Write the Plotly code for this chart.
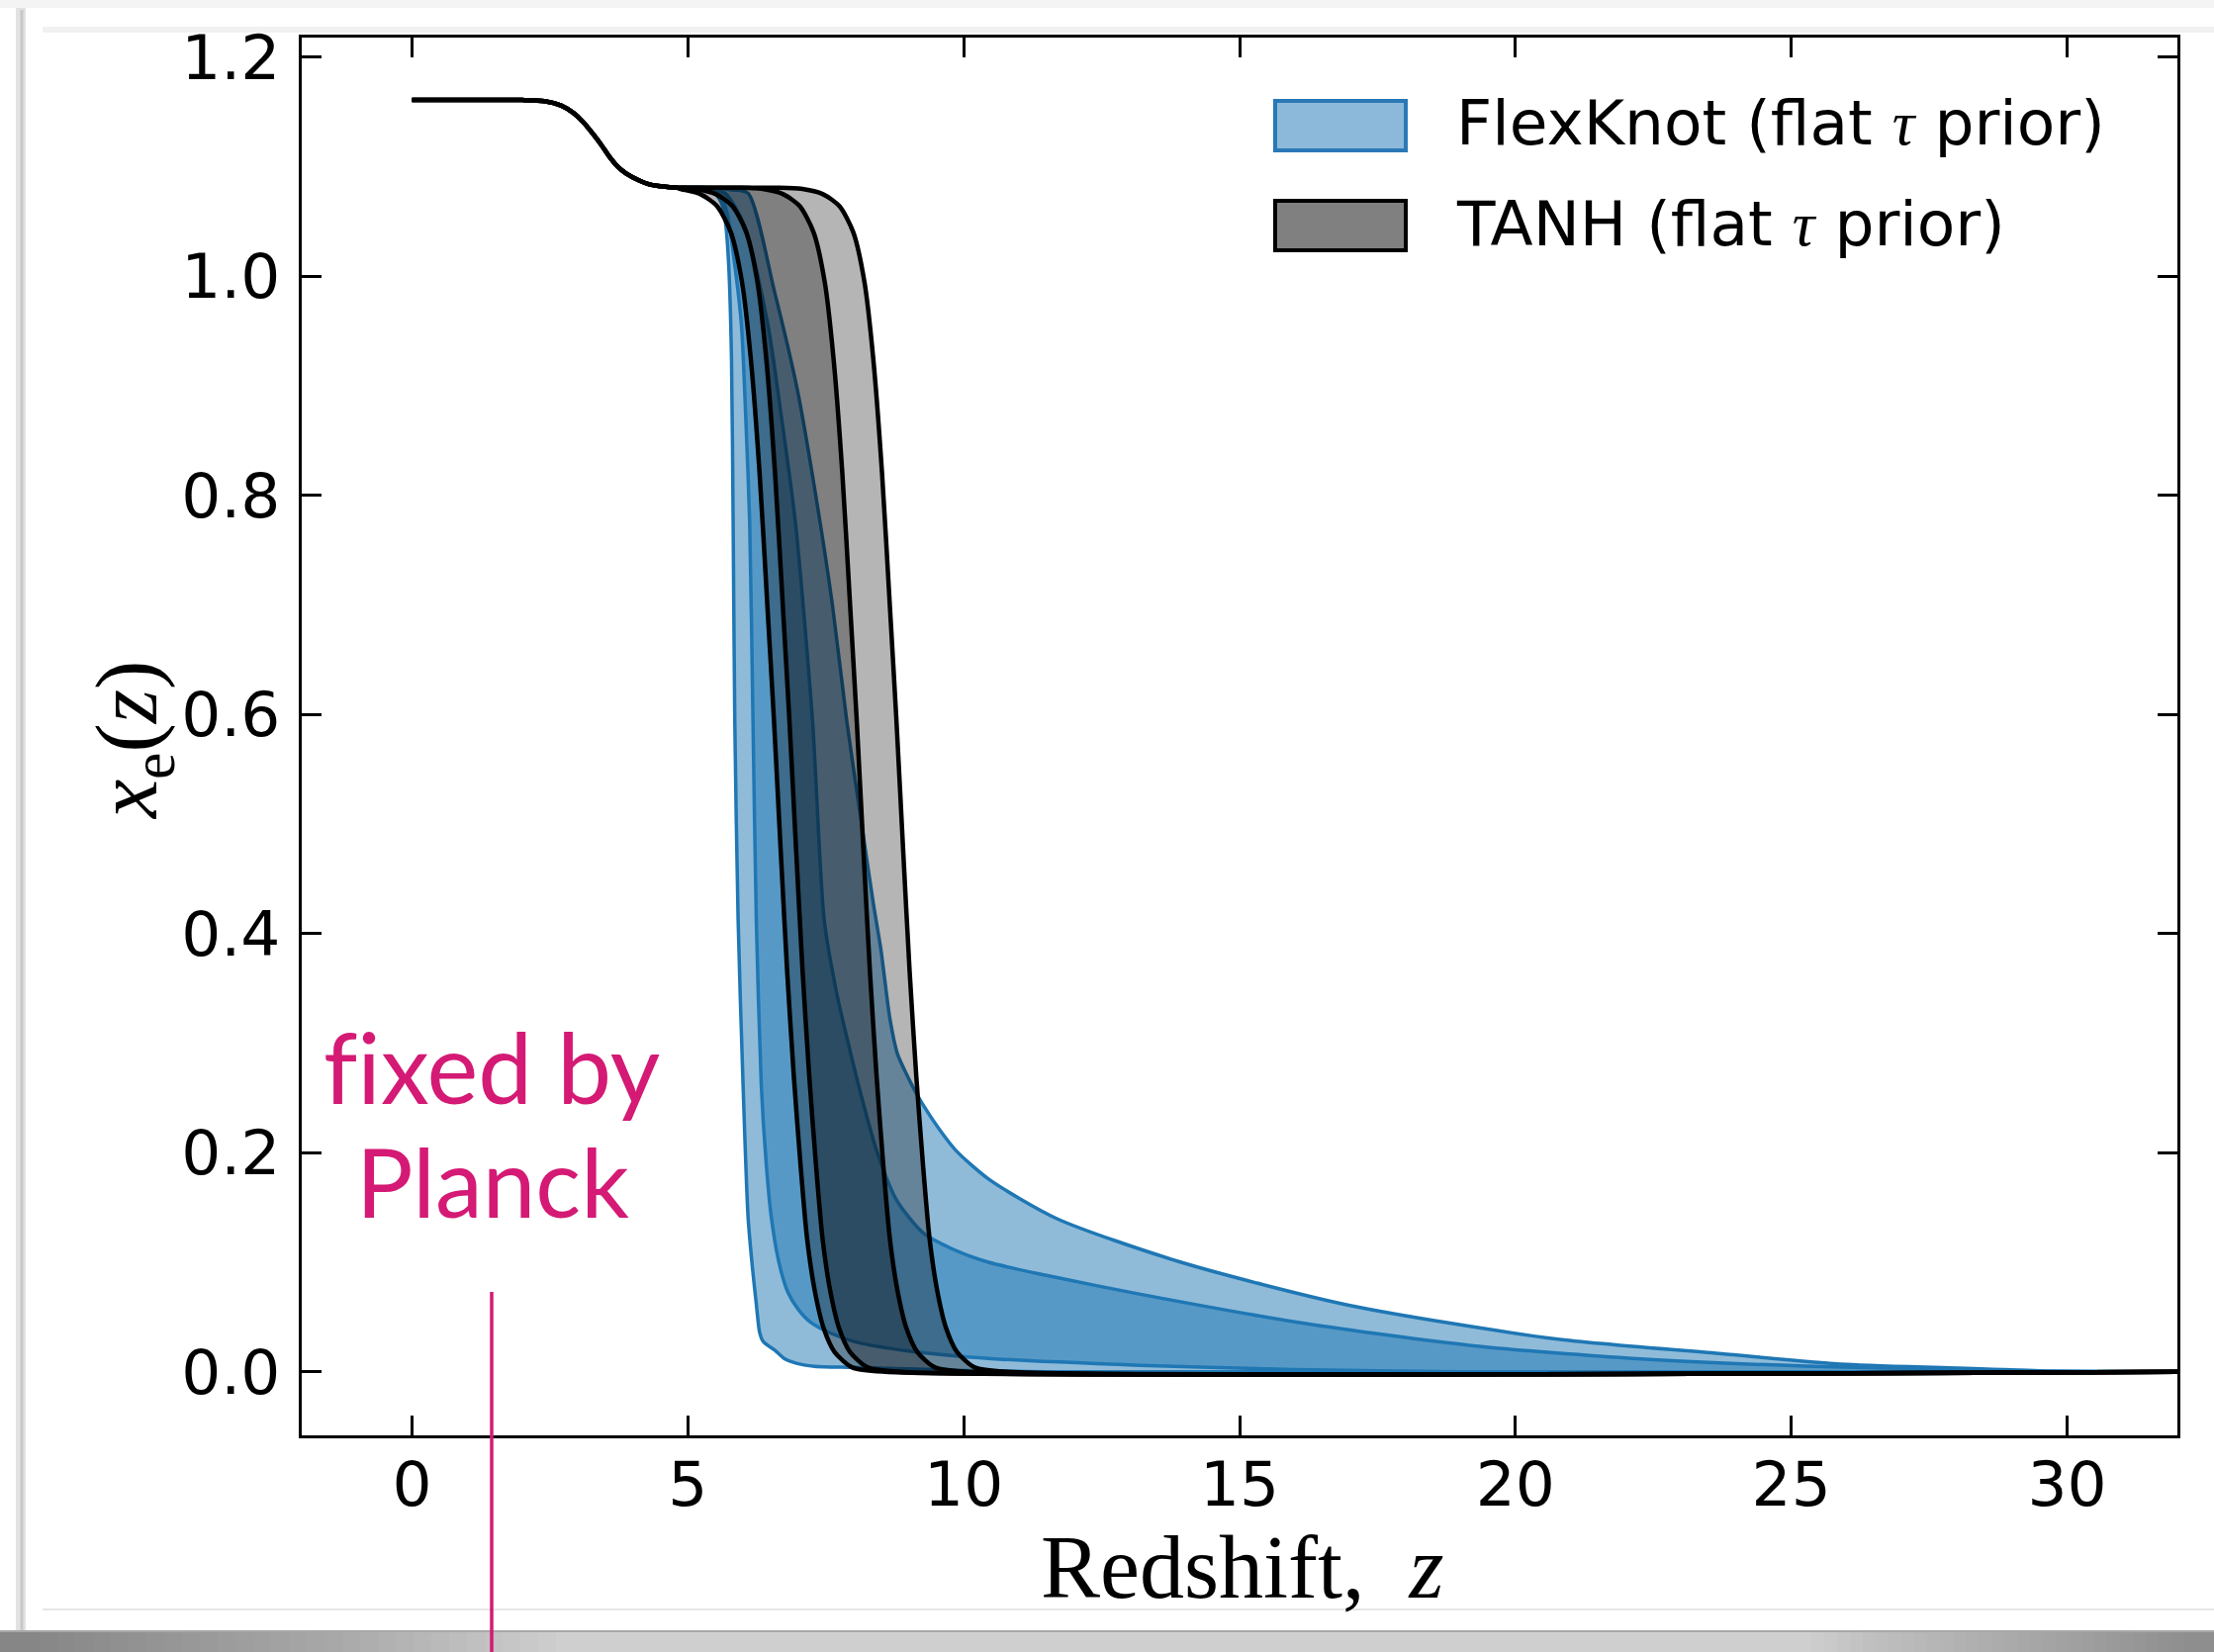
import plotly.graph_objects as go

# ---------------------------------------------------------------------------
# Ionisation history x_e(z): shared low-redshift helium step
he_z = [0.0, 1.0, 2.0, 2.4, 2.7, 2.93, 3.1, 3.28, 3.43, 3.58, 3.73, 3.88, 4.1, 4.3, 4.55, 4.78]
he_xe = [1.161, 1.161, 1.161, 1.160, 1.156, 1.149, 1.141, 1.130, 1.120, 1.109, 1.100, 1.094,
         1.088, 1.084, 1.082, 1.081]

# TANH model (flat tau prior): edges of the 68% / 95% bands, z at fixed x_e levels
tanh_xe = [1.081, 1.080, 1.075, 1.064, 1.040, 0.995, 0.925, 0.820, 0.700, 0.595, 0.478,
           0.365, 0.270, 0.190, 0.122, 0.074, 0.040, 0.018, 0.004, 0.0, 0.0]
tanh95_lo_z = [4.80, 4.85, 5.23, 5.53, 5.78, 5.98, 6.14, 6.30, 6.44, 6.56, 6.68, 6.80,
               6.92, 7.04, 7.16, 7.30, 7.46, 7.66, 7.98, 8.58, 32.0]
tanh68_lo_z = [4.90, 5.11, 5.51, 5.81, 6.06, 6.26, 6.42, 6.58, 6.72, 6.84, 6.96, 7.08,
               7.20, 7.32, 7.44, 7.58, 7.74, 7.94, 8.26, 8.86, 32.0]
tanh68_hi_z = [5.88, 6.33, 6.73, 7.03, 7.28, 7.48, 7.64, 7.80, 7.94, 8.06, 8.18, 8.30,
               8.42, 8.54, 8.66, 8.80, 8.96, 9.16, 9.48, 10.08, 32.0]
tanh95_hi_z = [6.60, 7.05, 7.45, 7.75, 8.00, 8.20, 8.36, 8.52, 8.66, 8.78, 8.90, 9.02,
               9.14, 9.26, 9.38, 9.52, 9.68, 9.88, 10.20, 10.80, 32.0]

# FlexKnot model (flat tau prior): band edges
fk95_lo_z = [5.2, 5.45, 5.6, 5.68, 5.74, 5.79, 5.82, 5.85, 5.91, 6.0, 6.09, 6.17, 6.24,
             6.30, 6.36, 6.45, 6.57, 6.75, 6.95, 7.3, 8.0, 9.5, 11.5, 32.0]
fk95_lo_xe = [1.081, 1.078, 1.068, 1.050, 1.010, 0.926, 0.775, 0.594, 0.413, 0.262, 0.142,
              0.095, 0.062, 0.036, 0.028, 0.024, 0.020, 0.012, 0.008, 0.005, 0.004, 0.002,
              0.0, 0.0]
fk68_lo_z = [5.3, 5.55, 5.7, 5.85, 5.97, 6.05, 6.12, 6.18, 6.24, 6.33, 6.42, 6.51, 6.65,
             6.81, 7.0, 7.23, 7.6, 8.06, 9.0, 10.5, 13.2, 16.0, 19.0, 32.0]
fk68_lo_xe = [1.081, 1.076, 1.060, 1.010, 0.956, 0.870, 0.775, 0.594, 0.413, 0.262, 0.190,
              0.142, 0.100, 0.073, 0.057, 0.045, 0.035, 0.027, 0.019, 0.012, 0.006, 0.002,
              0.0, 0.0]
fk68_hi_z = [5.3, 5.67, 6.03, 6.45, 6.70, 6.95, 7.26, 7.47, 7.70, 7.94, 8.18, 8.42, 8.78,
             9.26, 9.8, 10.45, 11.5, 13.18, 16.2, 19.2, 22.2, 25.25, 27.5, 29.5, 32.0]
fk68_hi_xe = [1.081, 1.076, 1.046, 0.956, 0.870, 0.775, 0.594, 0.413, 0.345, 0.293, 0.245,
              0.202, 0.157, 0.127, 0.112, 0.100, 0.088, 0.071, 0.044, 0.024, 0.012,
              0.0052, 0.0025, 0.0005, 0.0]
fk95_hi_z = [5.4, 5.8, 6.09, 6.57, 6.99, 7.35, 7.62, 7.88, 8.12, 8.36, 8.5, 8.66, 8.8,
             8.96, 9.1, 9.26, 9.55, 9.86, 10.45, 11.68, 13.94, 16.96, 20.73, 23.74, 26.0,
             28.3, 29.5, 32.0]
fk95_hi_xe = [1.081, 1.079, 1.076, 0.986, 0.895, 0.790, 0.700, 0.594, 0.510, 0.428, 0.385,
              0.323, 0.290, 0.272, 0.258, 0.244, 0.222, 0.202, 0.176, 0.140, 0.100, 0.061,
              0.030, 0.0165, 0.0068, 0.003, 0.001, 0.0]

x_ticks = [0, 5, 10, 15, 20, 25, 30]
y_ticks = [0.0, 0.2, 0.4, 0.6, 0.8, 1.0, 1.2]
TAU = "<span style=\"font-family:'Liberation Serif'\"><i>τ</i></span>"
legend_labels = [f"FlexKnot (flat {TAU} prior)", f"TANH (flat {TAU} prior)"]

# ---------------------------------------------------------------------------
W, H = 2238, 1670
L, R, T, B = 305, 2201, 38, 1451          # plot area in pixels


def px(x):
    return (x - L) / (R - L)


def py(y):
    return (B - y) / (B - T)


BLUE = "#1f77b4"
BLUE_FILL = "rgba(31,119,180,0.5)"
GREY_FILL = "rgba(0,0,0,0.29)"
MAGENTA = "#d41a74"

fig = go.Figure()


def band(lo_z, lo_xe, hi_z, hi_xe, fill, color, width):
    common = dict(mode="lines", showlegend=False, hoverinfo="skip",
                  line=dict(color=color, width=width, shape="spline", smoothing=0.7))
    fig.add_trace(go.Scatter(x=he_z + lo_z, y=he_xe + lo_xe, **common))
    fig.add_trace(go.Scatter(x=he_z + hi_z, y=he_xe + hi_xe, fill="tonexty",
                             fillcolor=fill, **common))


band(fk95_lo_z, fk95_lo_xe, fk95_hi_z, fk95_hi_xe, BLUE_FILL, BLUE, 3.5)
band(fk68_lo_z, fk68_lo_xe, fk68_hi_z, fk68_hi_xe, BLUE_FILL, BLUE, 3.5)
band(tanh95_lo_z, tanh_xe, tanh95_hi_z, tanh_xe, GREY_FILL, "black", 4.5)
band(tanh68_lo_z, tanh_xe, tanh68_hi_z, tanh_xe, GREY_FILL, "black", 4.5)

tick_font = dict(family="DejaVu Sans", size=63, color="black")
axis_common = dict(showline=True, linecolor="black", linewidth=3, mirror="ticks",
                   ticks="inside", ticklen=20, tickwidth=3, tickcolor="black",
                   showgrid=False, zeroline=False, tickfont=tick_font)

fig.update_xaxes(range=[-2, 32], tickvals=x_ticks, ticktext=[str(v) for v in x_ticks],
                 ticklabelstandoff=-8, **axis_common)
fig.update_yaxes(range=[-0.058, 1.218], tickvals=y_ticks,
                 ticktext=[f"{v:.1f}" for v in y_ticks], ticklabelstandoff=6, **axis_common)

shapes = []
annotations = []

# legend patches and labels
for i, (fc, lc) in enumerate([("#8cb9d9", "#2a78b6"), ("#808080", "black")]):
    y0, y1 = 102 + 101 * i, 152 + 101 * i
    shapes.append(dict(type="rect", xref="paper", yref="paper", x0=px(1289), x1=px(1421),
                       y0=py(y1), y1=py(y0), fillcolor=fc, line=dict(color=lc, width=4)))
    annotations.append(dict(xref="paper", yref="paper", x=px(1470), y=py((y0 + y1) / 2 - 2),
                            xanchor="left", yanchor="middle", showarrow=False,
                            text=legend_labels[i], font=tick_font))

# axis titles
annotations.append(dict(xref="paper", yref="paper", x=px(1256), y=py(1584), showarrow=False,
                        xanchor="center", yanchor="middle", text="Redshift,  <i>z</i>",
                        font=dict(family="Liberation Serif", size=90, color="black")))
annotations.append(dict(xref="paper", yref="paper", x=px(134), y=py(749), showarrow=False,
                        xanchor="center", yanchor="middle", textangle=-90,
                        text="<i>x</i><sub>e</sub>(<i>z</i>)",
                        font=dict(family="Liberation Serif", size=88, color="black")))

# "fixed by Planck" note with its marker line
annotations.append(dict(xref="paper", yref="paper", x=px(497), y=py(1078), showarrow=False,
                        xanchor="center", yanchor="middle", text="f\u200cixed by",
                        font=dict(family="Lato", size=98, color=MAGENTA)))
annotations.append(dict(xref="paper", yref="paper", x=px(498), y=py(1193), showarrow=False,
                        xanchor="center", yanchor="middle", text="Planck",
                        font=dict(family="Lato", size=96, color=MAGENTA)))
shapes.append(dict(type="line", xref="paper", yref="paper", x0=px(497), x1=px(497),
                   y0=py(1306), y1=py(1672), line=dict(color=MAGENTA, width=3.5)))

# page card: faint rules, left edge and bottom shadow
shapes += [
    dict(type="rect", xref="paper", yref="paper", x0=px(0), x1=px(W), y0=py(8), y1=py(0),
         fillcolor="#f4f4f4", line=dict(width=0), layer="below"),
    dict(type="rect", xref="paper", yref="paper", x0=px(43), x1=px(W), y0=py(33), y1=py(27),
         fillcolor="#f1f1f1", line=dict(width=0), layer="below"),
    dict(type="line", xref="paper", yref="paper", x0=px(43), x1=px(W), y0=py(1627),
         y1=py(1627), line=dict(color="#e6e6e6", width=2), layer="below"),
    dict(type="rect", xref="paper", yref="paper", x0=px(16), x1=px(26), y0=py(1648),
         y1=py(8), fillcolor="#e2e2e2", line=dict(width=0), layer="below"),
    dict(type="line", xref="paper", yref="paper", x0=px(22), x1=px(22), y0=py(1648),
         y1=py(10), line=dict(color="#c8c8c8", width=3), layer="below"),
    dict(type="rect", xref="paper", yref="paper", x0=px(0), x1=px(W), y0=py(1670),
         y1=py(1648), fillcolor="#cfcfcf", line=dict(width=0), layer="below"),
]
# shadow darkens gradually towards both ends of the bottom edge
for k in range(30):
    shapes.append(dict(type="rect", xref="paper", yref="paper", x0=px(0), x1=px(40 + 18 * k),
                       y0=py(1670), y1=py(1648), fillcolor="rgba(80,80,80,0.025)",
                       line=dict(width=0), layer="below"))
    shapes.append(dict(type="rect", xref="paper", yref="paper", x0=px(W - 30 - 13 * k),
                       x1=px(W), y0=py(1670), y1=py(1648), fillcolor="rgba(80,80,80,0.016)",
                       line=dict(width=0), layer="below"))
shapes.append(dict(type="line", xref="paper", yref="paper", x0=px(0), x1=px(W), y0=py(1649),
                   y1=py(1649), line=dict(color="#a8a8a8", width=2), layer="below"))

fig.update_layout(width=W, height=H, margin=dict(l=L, r=W - R, t=T, b=H - B),
                  paper_bgcolor="white", plot_bgcolor="white", showlegend=False,
                  shapes=shapes, annotations=annotations)

fig.write_html("out.html")
